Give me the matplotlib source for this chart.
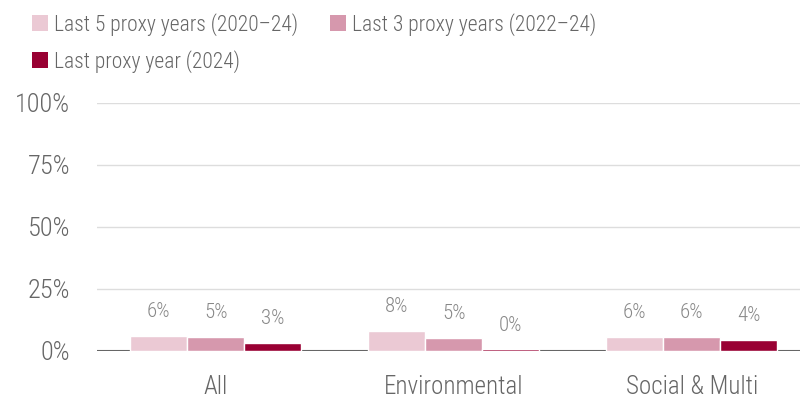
import matplotlib.pyplot as plt
import numpy as np
from matplotlib.patches import Patch

categories = ["All", "Environmental", "Social & Multi"]
series_names = ["Last 5 proxy years (2020\u201324)", "Last 3 proxy years (2022\u201324)", "Last proxy year (2024)"]
last5 = [6.0, 8.2, 5.6]
last3 = [5.5, 5.1, 5.7]
last1 = [3.2, 0.6, 4.3]
labels5 = ["6%", "8%", "6%"]
labels3 = ["5%", "5%", "6%"]
labels1 = ["3%", "0%", "4%"]
yticks = [0, 25, 50, 75, 100]

colors = ["#ebc9d4", "#d698ad", "#990033"]
text_color = "#666666"

plt.rcParams["font.family"] = ["Roboto Condensed", "Liberation Sans Narrow", "DejaVu Sans"]
plt.rcParams["font.weight"] = "light"

fig = plt.figure(figsize=(8, 3.97), dpi=100)
# plot area runs a little past the right edge, as in the original
ax = fig.add_axes([0.121, 0.116, 0.8925, 0.625])

x = np.arange(len(categories))
w = 0.24
for i, (vals, labs) in enumerate(zip([last5, last3, last1], [labels5, labels3, labels1])):
    pos = x + (i - 1) * w
    ax.bar(pos, vals, width=w, color=colors[i], edgecolor="white", linewidth=1, zorder=5)
    for p, v, lab in zip(pos, vals, labs):
        ax.text(p, v + 6, lab, ha="center", va="bottom", fontsize=15, color="#888888")

ax.set_xlim(-0.5, 2.5)
ax.set_ylim(0, 100)
ax.set_yticks(yticks)
ax.set_yticklabels([f"{t}%" for t in yticks])
ax.set_xticks(x)
ax.set_xticklabels(categories)
ax.tick_params(axis="both", length=0, colors=text_color)
ax.tick_params(axis="y", pad=19, labelsize=19)
ax.tick_params(axis="x", pad=17, labelsize=18)
for t in yticks[1:]:
    ax.axhline(t, color="#dddddd", linewidth=1, zorder=1)
ax.axhline(0, color="#666666", linewidth=1.5, zorder=4)
for s in ax.spines.values():
    s.set_visible(False)

order = [0, 2, 1]
handles = [Patch(facecolor=colors[k], edgecolor="none") for k in order]
fig.legend(handles, [series_names[k] for k in order], loc="upper left", bbox_to_anchor=(0.024, 1.0),
           ncol=2, frameon=False, fontsize=15.5, labelcolor=text_color, handlelength=0.72,
           handleheight=0.72, handletextpad=0.3, columnspacing=1.5, borderaxespad=0.2,
           labelspacing=0.65)

fig.savefig("out.png", dpi=100)
